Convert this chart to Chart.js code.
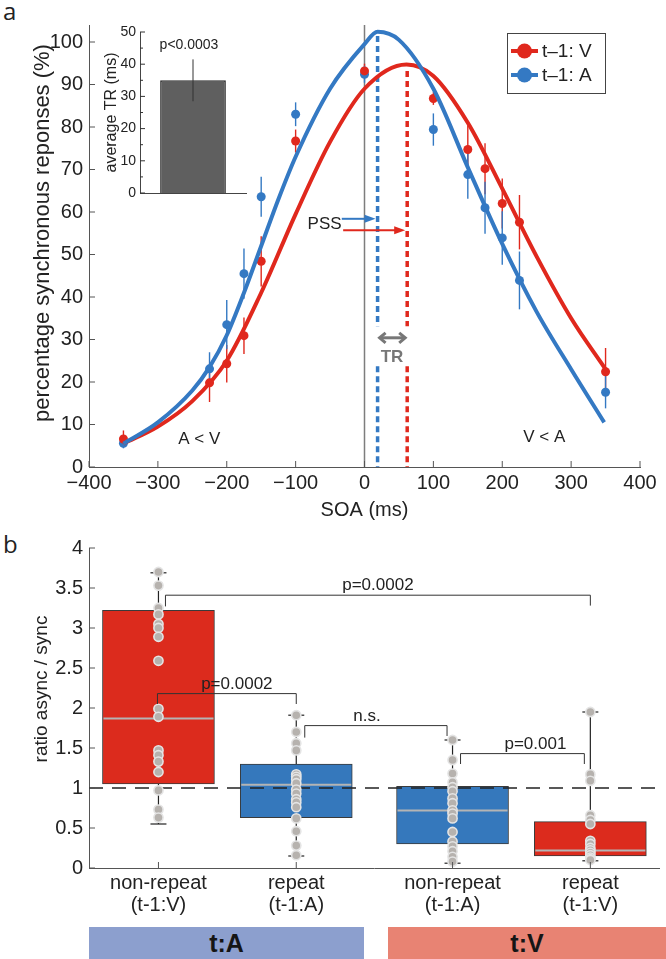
<!DOCTYPE html>
<html>
<head>
<meta charset="utf-8">
<script src="https://cdn.jsdelivr.net/npm/chart.js@4.4.1/dist/chart.umd.min.js"></script>
<style>
  body { margin: 0; width: 666px; height: 959px; background: #fff; position: relative; overflow: hidden; }
  canvas { position: absolute; }
  .panel { position: absolute; font-family: 'Open Sans', 'DejaVu Sans', sans-serif; font-size: 24px; color: #222; }
  .band { position: absolute; top: 927px; height: 32px; line-height: 32px; text-align: center;
          font-family: 'Liberation Sans', Arial, sans-serif; font-weight: bold; font-size: 25px; color: #151515; }
</style>
</head>
<body>
<div class="panel" style="left:3px;top:-6px">a</div>
<div class="panel" style="left:3px;top:527px">b</div>
<canvas id="soaChart" width="666" height="530" style="left:0;top:0"></canvas>
<canvas id="trChart" width="180" height="210" style="left:80px;top:0"></canvas>
<canvas id="ratioChart" width="666" height="395" style="left:0;top:530px"></canvas>
<div class="band" style="left:89px;width:275px;background:#8c9fce">t:A</div>
<div class="band" style="left:388px;width:278px;background:#e88373">t:V</div>

<script>
// ---- panel a: simultaneity judgements ----
var soa = [-350, -225, -200, -175, -150, -100, 0, 100, 150, 175, 200, 225, 350];
var syncV = [6.6, 19.8, 24.3, 30.9, 48.4, 76.7, 93.2, 86.7, 74.7, 70.2, 62.0, 57.6, 22.4];
var errV = [2.0, 4.5, 4.4, 4.3, 5.9, 2.7, 1.7, 1.5, 5.7, 6.0, 5.9, 6.4, 5.6];
var syncA = [5.6, 23.1, 33.5, 45.5, 63.6, 83.0, 92.4, 79.4, 68.8, 61.0, 53.9, 43.9, 17.6];
var errA = [1.2, 3.9, 5.8, 5.9, 4.7, 2.8, 2.0, 3.8, 5.7, 6.1, 6.3, 6.8, 3.8];

// fitted curves
var fitSoaV = [-350, -300, -250, -200, -150, -100, -50, 0, 61, 100, 150, 200, 250, 300, 350];
var fitV = [5.5, 9.5, 15.5, 25, 41, 59.5, 76.5, 89, 94.7, 92, 81, 65.5, 49.5, 35, 23];
var fitSoaA = [-350, -300, -250, -225, -200, -175, -150, -125, -100, -50, 0, 19, 50, 100, 150, 200, 250, 300, 348];
var fitA = [5.5, 10.5, 18, 23.5, 31, 41, 52, 63, 73, 89, 99.5, 102.4, 100.5, 89, 70.5, 52.5, 36.5, 23, 10.5];

var pssV = 62, pssA = 19;          // points of subjective simultaneity (ms)
var legendLabels = ['t\u20131: V', 't\u20131: A'];

// inset: average temporal recalibration
var trLabels = [''];
var trMean = [35];
var trErr = [6.5];
var trP = 'p<0.0003';

// ---- panel b: ratio async / sync ----
var condLabels = [['non-repeat', '(t-1:V)'], ['repeat', '(t-1:A)'], ['non-repeat', '(t-1:A)'], ['repeat', '(t-1:V)']];
var targetGroup = [0, 0, 1, 1];
var prevModality = ['V', 'A', 'A', 'V'];
var boxMin = [0.55, 0.15, 0.06, 0.09];
var boxQ1 = [1.05, 0.63, 0.30, 0.15];
var boxMedian = [1.87, 1.04, 0.72, 0.22];
var boxQ3 = [3.22, 1.30, 1.02, 0.58];
var boxMax = [3.69, 1.91, 1.60, 1.95];
var ratios = [
  [3.70, 3.53, 3.25, 3.17, 3.05, 3.00, 2.89, 2.59, 1.99, 1.89, 1.47, 1.41, 1.33, 1.20, 0.97, 0.73, 0.63],
  [1.91, 1.70, 1.56, 1.47, 1.17, 1.14, 1.11, 1.06, 0.98, 0.93, 0.86, 0.82, 0.76, 0.62, 0.46, 0.28, 0.16],
  [1.60, 1.35, 1.18, 1.07, 1.01, 0.96, 0.87, 0.81, 0.72, 0.68, 0.62, 0.45, 0.33, 0.27, 0.21, 0.14, 0.08],
  [1.95, 1.17, 1.09, 0.66, 0.60, 0.55, 0.34, 0.30, 0.25, 0.22, 0.19, 0.16, 0.13, 0.11, 0.10]
];
var chanceLevel = 1;
// [from condition, to condition, bracket level, leg end left, leg end right, label]
var brackets = [
  [0, 3, 3.41, 3.27, 3.28, 'p=0.0002'],
  [0, 1, 2.18, 2.05, 2.05, 'p=0.0002'],
  [1, 2, 1.78, 1.63, 1.65, 'n.s.'],
  [2, 3, 1.43, 1.30, 1.30, 'p=0.001']
];

var red = '#e0281d', blue = '#3479c3';
Chart.defaults.font.family = "'Liberation Sans', Arial, sans-serif";
Chart.defaults.color = '#222';

function seg(ctx, x1, y1, x2, y2) {
  ctx.beginPath(); ctx.moveTo(x1, y1); ctx.lineTo(x2, y2); ctx.stroke();
}
function head(ctx, x, y, dir, len, half) {
  ctx.beginPath(); ctx.moveTo(x, y); ctx.lineTo(x - dir * len, y - half); ctx.lineTo(x - dir * len, y + half);
  ctx.closePath(); ctx.fill();
}
function inwardTicks(chart, len, color) {
  var ctx = chart.ctx, xs = chart.scales.x, ys = chart.scales.y, a = chart.chartArea;
  ctx.save(); ctx.strokeStyle = color; ctx.lineWidth = 1;
  xs.ticks.forEach(function (t) { var px = xs.getPixelForValue(t.value); seg(ctx, px, a.bottom, px, a.bottom - len); });
  ys.ticks.forEach(function (t) { var py = ys.getPixelForValue(t.value); seg(ctx, a.left, py, a.left + len, py); });
  ctx.restore();
}
// vertical axis title, placed where the figure has it
function sideTitle(ctx, text, cx, cy, size) {
  ctx.save();
  ctx.translate(cx, cy); ctx.rotate(-Math.PI / 2);
  ctx.font = size + "px 'Liberation Sans', Arial"; ctx.fillStyle = '#222';
  ctx.textAlign = 'center'; ctx.textBaseline = 'middle';
  ctx.fillText(text, 0, 0);
  ctx.restore();
}

var soaAnnot = {
  id: 'soaAnnot',
  beforeDatasetsDraw: function (chart) {
    var ctx = chart.ctx, x = chart.scales.x, y = chart.scales.y;
    ctx.save();
    ctx.strokeStyle = '#7d7d7d'; ctx.lineWidth = 1.5;
    seg(ctx, x.getPixelForValue(0), y.getPixelForValue(0), x.getPixelForValue(0), y.getPixelForValue(y.max));
    // PSS lines, broken around the TR label
    [[pssA, 101.4, blue], [pssV, 93.2, red]].forEach(function (p) {
      var px = x.getPixelForValue(p[0]);
      ctx.strokeStyle = p[2]; ctx.lineWidth = 3.5; ctx.setLineDash([6, 4]);
      seg(ctx, px, y.getPixelForValue(p[1]), px, y.getPixelForValue(33.1));
      seg(ctx, px, y.getPixelForValue(23.7), px, y.getPixelForValue(0));
    });
    ctx.setLineDash([]);
    ctx.lineWidth = 1.4;
    [[syncV, errV, red], [syncA, errA, blue]].forEach(function (s) {
      ctx.strokeStyle = s[2];
      soa.forEach(function (t, i) {
        var px = x.getPixelForValue(t);
        seg(ctx, px, y.getPixelForValue(s[0][i] - s[1][i]), px, y.getPixelForValue(s[0][i] + s[1][i]));
      });
    });
    ctx.restore();
  },
  afterDraw: function (chart) {
    var ctx = chart.ctx, x = chart.scales.x, y = chart.scales.y;
    inwardTicks(chart, 6, '#555');
    sideTitle(ctx, 'percentage synchronous reponses (%)', 43, 233, 22);
    ctx.save();
    // PSS label and arrows
    ctx.font = "17px 'Liberation Sans', Arial"; ctx.fillStyle = '#222';
    ctx.textAlign = 'center'; ctx.textBaseline = 'middle';
    ctx.fillText('PSS', x.getPixelForValue(-58), y.getPixelForValue(57.1));
    ctx.lineWidth = 2;
    ctx.strokeStyle = blue; ctx.fillStyle = blue;
    seg(ctx, x.getPixelForValue(-33), y.getPixelForValue(58.4), x.getPixelForValue(pssA) - 10, y.getPixelForValue(58.4));
    head(ctx, x.getPixelForValue(pssA) - 2, y.getPixelForValue(58.4), 1, 11, 4);
    ctx.strokeStyle = red; ctx.fillStyle = red;
    seg(ctx, x.getPixelForValue(-31), y.getPixelForValue(55.7), x.getPixelForValue(pssV) - 10, y.getPixelForValue(55.7));
    head(ctx, x.getPixelForValue(pssV) - 2, y.getPixelForValue(55.7), 1, 11, 4);
    // TR double arrow
    var tx1 = x.getPixelForValue(pssA) + 1, tx2 = x.getPixelForValue(pssV) - 1, ty = y.getPixelForValue(30.4);
    ctx.strokeStyle = '#777'; ctx.lineWidth = 3;
    seg(ctx, tx1 + 2, ty, tx2 - 2, ty);
    ctx.beginPath(); ctx.moveTo(tx1 + 7, ty - 5); ctx.lineTo(tx1 + 1, ty); ctx.lineTo(tx1 + 7, ty + 5); ctx.stroke();
    ctx.beginPath(); ctx.moveTo(tx2 - 7, ty - 5); ctx.lineTo(tx2 - 1, ty); ctx.lineTo(tx2 - 7, ty + 5); ctx.stroke();
    ctx.fillStyle = '#777'; ctx.font = "bold 17px 'Liberation Sans', Arial";
    ctx.fillText('TR', x.getPixelForValue(40), y.getPixelForValue(25.8));
    ctx.fillStyle = '#222'; ctx.font = "17px 'Liberation Sans', Arial";
    ctx.fillText('A < V', x.getPixelForValue(-240), y.getPixelForValue(6.6));
    ctx.fillText('V < A', x.getPixelForValue(261), y.getPixelForValue(7.1));
    // legend
    ctx.fillStyle = '#fff'; ctx.strokeStyle = '#444'; ctx.lineWidth = 1;
    ctx.fillRect(507.5, 33.5, 98, 60); ctx.strokeRect(507.5, 33.5, 98, 60);
    [[red, 51], [blue, 75]].forEach(function (row, i) {
      ctx.strokeStyle = row[0]; ctx.fillStyle = row[0]; ctx.lineWidth = 4;
      seg(ctx, 511, row[1], 538, row[1]);
      ctx.beginPath(); ctx.arc(524.5, row[1], 7.5, 0, Math.PI * 2); ctx.fill();
      ctx.fillStyle = '#222'; ctx.textAlign = 'left'; ctx.font = "19px 'Liberation Sans', Arial";
      ctx.fillText(legendLabels[i], 542, row[1] + 1);
    });
    ctx.restore();
  }
};

function xy(xs, ys) { return xs.map(function (v, i) { return { x: v, y: ys[i] }; }); }

new Chart(document.getElementById('soaChart'), {
  type: 'scatter',
  data: {
    datasets: [
      { type: 'line', data: xy(fitSoaA, fitA), borderColor: blue, borderWidth: 4, pointRadius: 0,
        cubicInterpolationMode: 'monotone', fill: false, order: 1 },
      { type: 'line', data: xy(fitSoaV, fitV), borderColor: red, borderWidth: 4, pointRadius: 0,
        cubicInterpolationMode: 'monotone', fill: false, order: 2 },
      { label: legendLabels[0], data: xy(soa, syncV), backgroundColor: red, pointRadius: 4.5, borderWidth: 0, order: 3 },
      { label: legendLabels[1], data: xy(soa, syncA), backgroundColor: blue, pointRadius: 4.5, borderWidth: 0, order: 3 }
    ]
  },
  options: {
    responsive: false, animation: false, events: [],
    layout: { padding: { top: 25, right: 26, left: 0, bottom: 0 } },
    plugins: { legend: { display: false }, tooltip: { enabled: false } },
    scales: {
      x: {
        min: -400, max: 400,
        ticks: { stepSize: 100, font: { size: 20 }, padding: 4, maxRotation: 0,
                 callback: function (v) { return v < 0 ? '\u2212' + Math.abs(v) : String(v); } },
        grid: { display: false, drawTicks: false }, border: { color: '#555' },
        title: { display: true, text: 'SOA (ms)', font: { size: 20 }, padding: { bottom: 8 } },
        afterFit: function (s) { s.height = 63; }
      },
      y: {
        min: 0, max: 104,
        ticks: { stepSize: 10, includeBounds: false, font: { size: 20 }, padding: 6 },
        grid: { display: false, drawTicks: false }, border: { color: '#555' },
        afterFit: function (s) { s.width = 89; }
      }
    }
  },
  plugins: [soaAnnot]
});

var trAnnot = {
  id: 'trAnnot',
  afterDraw: function (chart) {
    var ctx = chart.ctx, x = chart.scales.x, y = chart.scales.y, a = chart.chartArea;
    ctx.save();
    ctx.strokeStyle = '#333'; ctx.lineWidth = 1;
    var px = x.getPixelForValue(0);
    seg(ctx, px, y.getPixelForValue(trMean[0] - trErr[0]), px, y.getPixelForValue(trMean[0] + trErr[0]));
    for (var v = 0; v <= 50; v += 5) {
      var py = y.getPixelForValue(v);
      seg(ctx, a.left, py, a.left + (v % 10 === 0 ? 5 : 3), py);
    }
    ctx.fillStyle = '#222'; ctx.font = "14px 'Liberation Sans', Arial";
    ctx.textAlign = 'center'; ctx.textBaseline = 'middle';
    ctx.fillText(trP, px - 4, y.getPixelForValue(46));
    ctx.restore();
  }
};

new Chart(document.getElementById('trChart'), {
  type: 'bar',
  data: { labels: trLabels, datasets: [{ data: trMean, backgroundColor: '#5f5f5f', borderColor: '#2b2b2b',
    borderWidth: 1.5, barPercentage: 0.62, categoryPercentage: 1 }] },
  options: {
    responsive: false, animation: false, events: [],
    layout: { padding: { top: 32, right: 14, bottom: 17, left: 0 } },
    plugins: { legend: { display: false }, tooltip: { enabled: false } },
    scales: {
      x: { ticks: { display: false }, grid: { display: false, drawTicks: false }, border: { color: '#444' },
           afterFit: function (s) { s.height = 0; } },
      y: { min: 0, max: 50, ticks: { stepSize: 10, font: { size: 14 }, padding: 4 },
           grid: { display: false, drawTicks: false }, border: { color: '#444' },
           title: { display: true, text: 'average TR (ms)', font: { size: 16 }, padding: { top: 22 } },
           afterFit: function (s) { s.width = 60; } }
    }
  },
  plugins: [trAnnot]
});

// ---- panel b ----
var groupGap = 0.134;
var boxPos = condLabels.map(function (c, i) { return i + targetGroup[i] * groupGap; });
var boxColor = prevModality.map(function (m) { return m === 'V' ? '#dc2b1d' : '#3578bc'; });
var dots = [];
ratios.forEach(function (list, i) { list.forEach(function (v) { dots.push({ x: boxPos[i], y: v }); }); });

var ratioAnnot = {
  id: 'ratioAnnot',
  beforeDatasetsDraw: function (chart) {
    var ctx = chart.ctx, x = chart.scales.x, y = chart.scales.y;
    ctx.save(); ctx.strokeStyle = '#222'; ctx.lineWidth = 1.2;
    boxPos.forEach(function (p, i) {
      var px = x.getPixelForValue(p), top = y.getPixelForValue(boxMax[i]), bot = y.getPixelForValue(boxMin[i]);
      seg(ctx, px, top, px, bot);
      seg(ctx, px - 8, top, px + 8, top);
      seg(ctx, px - 8, bot, px + 8, bot);
    });
    ctx.restore();
  },
  afterDatasetDraw: function (chart, args) {
    if (args.meta.type !== 'bar') return;
    var ctx = chart.ctx, x = chart.scales.x, y = chart.scales.y, a = chart.chartArea;
    ctx.save();
    ctx.strokeStyle = '#b4b4b4'; ctx.lineWidth = 2;
    boxPos.forEach(function (p, i) {
      var px = x.getPixelForValue(p), py = y.getPixelForValue(boxMedian[i]);
      seg(ctx, px - 55, py, px + 55, py);
    });
    ctx.strokeStyle = '#222'; ctx.lineWidth = 1.5; ctx.setLineDash([14, 9]);
    seg(ctx, a.left, y.getPixelForValue(chanceLevel), a.right, y.getPixelForValue(chanceLevel));
    ctx.restore();
  },
  afterDraw: function (chart) {
    var ctx = chart.ctx, x = chart.scales.x, y = chart.scales.y;
    inwardTicks(chart, 6, '#555');
    sideTitle(ctx, 'ratio async / sync', 42, 159, 19);
    var nudge = [[7, 0, 0], [-1, 0, 10], [8.5, -5.5, -9], [8, -6, 13]];
    ctx.save();
    ctx.strokeStyle = '#333'; ctx.lineWidth = 1; ctx.fillStyle = '#222';
    ctx.font = "17px 'Liberation Sans', Arial"; ctx.textAlign = 'center'; ctx.textBaseline = 'alphabetic';
    brackets.forEach(function (b, i) {
      var x1 = x.getPixelForValue(boxPos[b[0]]) + nudge[i][0], x2 = x.getPixelForValue(boxPos[b[1]]) + nudge[i][1];
      var yl = y.getPixelForValue(b[2]);
      ctx.beginPath();
      ctx.moveTo(x1, y.getPixelForValue(b[3])); ctx.lineTo(x1, yl); ctx.lineTo(x2, yl); ctx.lineTo(x2, y.getPixelForValue(b[4]));
      ctx.stroke();
      ctx.fillText(b[5], (x1 + x2) / 2 + nudge[i][2], yl - 5);
    });
    ctx.restore();
  }
};

new Chart(document.getElementById('ratioChart'), {
  type: 'scatter',
  data: {
    datasets: [
      { type: 'scatter', data: dots, pointRadius: 4.6, backgroundColor: '#b6b2ae', borderColor: '#e4e4e4',
        borderWidth: 1.6, order: 1 },
      { type: 'bar', data: boxPos.map(function (p, i) { return { x: p, y: [boxQ1[i], boxQ3[i]] }; }),
        backgroundColor: boxColor, borderColor: '#3a3a3a', borderWidth: 1, borderSkipped: false,
        barThickness: 112, order: 2 }
    ]
  },
  options: {
    responsive: false, animation: false, events: [],
    layout: { padding: { top: 18, right: 0, left: 0, bottom: 0 } },
    plugins: { legend: { display: false }, tooltip: { enabled: false } },
    scales: {
      x: {
        type: 'linear', min: -0.504, max: 3.638, offset: false,
        afterBuildTicks: function (s) { s.ticks = boxPos.map(function (p) { return { value: p }; }); },
        ticks: { autoSkip: false, maxRotation: 0, font: { size: 20, lineHeight: 1.1 }, padding: 4,
                 callback: function (v, i) { return condLabels[i]; } },
        grid: { display: false, drawTicks: false, offset: false }, border: { color: '#555' },
        afterFit: function (s) { s.height = 57; }
      },
      y: {
        min: 0, max: 4,
        ticks: { stepSize: 0.5, font: { size: 20 }, padding: 6, callback: function (v) { return String(v); } },
        grid: { display: false, drawTicks: false }, border: { color: '#555' },
        afterFit: function (s) { s.width = 89; }
      }
    }
  },
  plugins: [ratioAnnot]
});
</script>
</body>
</html>
